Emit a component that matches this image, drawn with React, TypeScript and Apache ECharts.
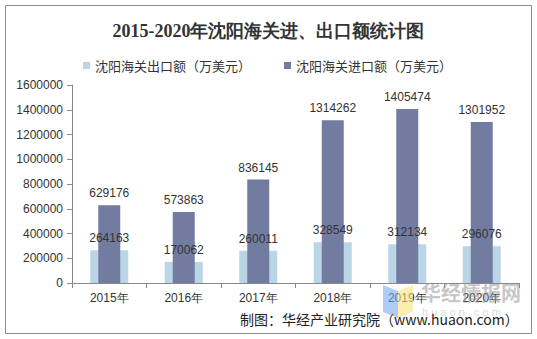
import React, { useEffect, useRef } from "react";
import * as echarts from "echarts";

const categories = ["2015年", "2016年", "2017年", "2018年", "2019年", "2020年"];
const exportValues = [264163, 170062, 260011, 328549, 312134, 296076];
const importValues = [629176, 573863, 836145, 1314262, 1405474, 1301952];
const exportName = "沈阳海关出口额（万美元）";
const importName = "沈阳海关进口额（万美元）";

export default function App() {
  const ref = useRef<HTMLDivElement>(null);
  useEffect(() => {
    const chart = echarts.init(ref.current!, null, { renderer: "svg" });
    const labelFont = { fontFamily: "Liberation Sans, Arial, sans-serif", fontSize: 12, color: "#333" };
    chart.setOption({
      animation: false,
      backgroundColor: "#fff",
      title: {
        text: "2015-2020年沈阳海关进、出口额统计图",
        left: "center",
        top: 17,
        textStyle: { fontFamily: "Liberation Serif, DejaVu Serif, serif", fontWeight: "bold", fontSize: 18, color: "#333" },
      },
      legend: {
        top: 54,
        left: 78,
        itemWidth: 7,
        itemHeight: 7,
        itemGap: 33,
        icon: "rect",
        textStyle: { fontFamily: "Noto Sans CJK SC, sans-serif", fontSize: 13, color: "#333" },
        data: [exportName, importName],
      },
      grid: { left: 72, right: 18, top: 85, bottom: 56 },
      xAxis: [
        {
          type: "category",
          data: categories,
          axisLine: { lineStyle: { color: "#888" } },
          axisTick: { show: true, alignWithLabel: false, length: 5, lineStyle: { color: "#888" } },
          axisLabel: { ...labelFont, margin: 9 },
        },
        { type: "category", data: categories, show: false },
      ],
      yAxis: {
        type: "value",
        min: 0,
        max: 1600000,
        interval: 200000,
        splitLine: { show: false },
        axisLine: { show: true, lineStyle: { color: "#888" } },
        axisTick: { show: true, length: 5, lineStyle: { color: "#888" } },
        axisLabel: { ...labelFont, margin: 9, formatter: (v: number) => String(v) },
      },
      series: [
        {
          name: exportName,
          type: "bar",
          xAxisIndex: 0,
          data: exportValues,
          barWidth: 38,
          itemStyle: { color: "#BAD5E6" },
          label: { show: true, position: "top", distance: 6, ...labelFont },
        },
        {
          name: importName,
          type: "bar",
          xAxisIndex: 1,
          data: importValues,
          barWidth: 22,
          itemStyle: { color: "#727CA0" },
          label: { show: true, position: "top", distance: 6, ...labelFont },
        },
      ],
      graphic: [
        {
          type: "rect",
          shape: { x: 5.5, y: 5.5, width: 526, height: 328 },
          style: { fill: "none", stroke: "#8a8a8a", lineWidth: 1 },
          silent: true,
        },
        {
          type: "polygon",
          shape: { points: [[383, 285], [398, 291], [398, 318], [383, 312]] },
          style: { fill: "rgba(120,170,240,0.6)" },
          z: 100,
          silent: true,
        },
        {
          type: "polygon",
          shape: { points: [[398, 291], [413, 285], [413, 312], [398, 318]] },
          style: { fill: "rgba(250,225,130,0.6)" },
          z: 100,
          silent: true,
        },
        {
          type: "text",
          x: 421,
          y: 282,
          style: {
            text: "华经情报网",
            fontSize: 20,
            fontWeight: "bold",
            fontFamily: "Noto Sans CJK SC, sans-serif",
            fill: "rgba(150,150,150,0.55)",
          },
          z: 100,
          silent: true,
        },
        {
          type: "text",
          x: 422,
          y: 306,
          style: {
            text: "h u a o n . c o m",
            fontSize: 11,
            fontFamily: "Liberation Sans, sans-serif",
            fill: "rgba(170,170,170,0.45)",
          },
          z: 100,
          silent: true,
        },
        {
          type: "text",
          x: 240,
          y: 312,
          style: {
            text: "制图：华经产业研究院（www.huaon.com）",
            fontSize: 14,
            fontFamily: "Noto Sans CJK SC, sans-serif",
            fill: "#222",
          },
          z: 101,
          silent: true,
        },
      ],
    });
    return () => chart.dispose();
  }, []);
  return <div ref={ref} style={{ width: 537, height: 339, position: "absolute", left: 0, top: 0 }} />;
}
